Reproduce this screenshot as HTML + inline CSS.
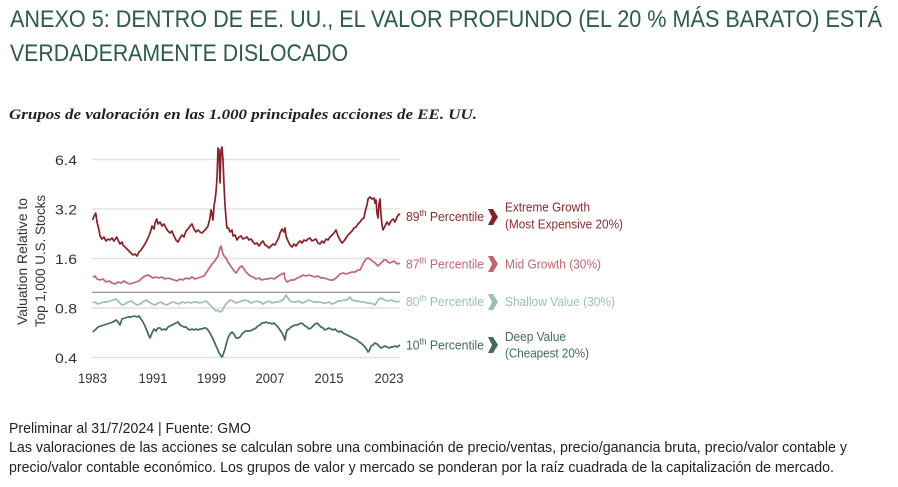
<!DOCTYPE html>
<html><head><meta charset="utf-8"><style>
html,body{margin:0;padding:0;background:#fff;width:898px;height:487px;overflow:hidden}
svg{display:block}
text{font-family:"Liberation Sans",sans-serif}
</style></head><body>
<svg width="898" height="487" viewBox="0 0 898 487" xmlns="http://www.w3.org/2000/svg">
<rect width="898" height="487" fill="#fff"/>
<!-- Title -->
<text x="10" y="27" font-size="24" fill="#2b5b4c" textLength="872" lengthAdjust="spacingAndGlyphs">ANEXO 5: DENTRO DE EE. UU., EL VALOR PROFUNDO (EL 20 % MÁS BARATO) ESTÁ</text>
<text x="10" y="61" font-size="24" fill="#2b5b4c" textLength="338" lengthAdjust="spacingAndGlyphs">VERDADERAMENTE DISLOCADO</text>
<!-- Subtitle -->
<text x="9" y="119" font-size="15" font-style="italic" font-weight="bold" fill="#222" style="font-family:'Liberation Serif',serif" textLength="468" lengthAdjust="spacingAndGlyphs">Grupos de valoración en las 1.000 principales acciones de EE. UU.</text>

<!-- gridlines -->
<g stroke="#e2e2e2" stroke-width="1.5">
<line x1="92" y1="159.5" x2="400" y2="159.5"/>
<line x1="92" y1="209" x2="400" y2="209"/>
<line x1="92" y1="258.5" x2="400" y2="258.5"/>
<line x1="92" y1="308" x2="400" y2="308"/>
<line x1="92" y1="357.5" x2="400" y2="357.5"/>
</g>
<line x1="92" y1="292.3" x2="400" y2="292.3" stroke="#8a8a8a" stroke-width="1.2"/>

<!-- y ticks -->
<g font-size="14" fill="#333" text-anchor="end">
<text x="77" y="165" textLength="22" lengthAdjust="spacingAndGlyphs">6.4</text>
<text x="77" y="214.5" textLength="22" lengthAdjust="spacingAndGlyphs">3.2</text>
<text x="77" y="264" textLength="22" lengthAdjust="spacingAndGlyphs">1.6</text>
<text x="77" y="313.5" textLength="22" lengthAdjust="spacingAndGlyphs">0.8</text>
<text x="77" y="363" textLength="22" lengthAdjust="spacingAndGlyphs">0.4</text>
</g>
<!-- x ticks -->
<g font-size="14" fill="#333" text-anchor="middle">
<text x="92.5" y="383" textLength="29" lengthAdjust="spacingAndGlyphs">1983</text>
<text x="153" y="383" textLength="29" lengthAdjust="spacingAndGlyphs">1991</text>
<text x="211.5" y="383" textLength="29" lengthAdjust="spacingAndGlyphs">1999</text>
<text x="270" y="383" textLength="29" lengthAdjust="spacingAndGlyphs">2007</text>
<text x="329" y="383" textLength="29" lengthAdjust="spacingAndGlyphs">2015</text>
<text x="389" y="383" textLength="29" lengthAdjust="spacingAndGlyphs">2023</text>
</g>
<!-- y axis title -->
<g font-size="14" fill="#333" text-anchor="middle">
<text transform="translate(27,261.5) rotate(-90)" textLength="127" lengthAdjust="spacingAndGlyphs">Valuation Relative to</text>
<text transform="translate(45,261) rotate(-90)" textLength="132" lengthAdjust="spacingAndGlyphs">Top 1,000 U.S. Stocks</text>
</g>

<!-- series -->
<g fill="none" stroke-width="1.7" stroke-linejoin="round">
<polyline stroke="#8b2126" points="92.7,220 94,216 95.7,213 97,222 99,230 100,236 102,239 104,237 106,241 108,239 110,240 112,238 114,241 116.7,237 118,240 120,244 122,242 123,245 125,247 127,249 129,251 131,253 133,255 135,254 137,256 139,252 141,250 143,247 145,244 147,240 149,236 151,230 152,226 154,229 155,223 156.7,219 158,224 160,222 162,226 164,224 166,228 168,231 170,233 172,231 174,236 176,240 178,242 180,238 182,235 184,237 186,231 188,229 190,226 192,224 194,229 196,232 198,230 200,232 202,233 204,231 206,229 208,226 210,218 211,210 212,214 213,220 214,206 215,200 216,192 217,178 218,148 219,150 220,183 221,150 222,147 223,160 224,185 225,205 226,218 227,228 228.5,228 230,232 232,230 233,236 235,235 237,240 239,237 241,236 243,239 245,238 247,237 249,240 251,239 253,242 255,244 257,243 259,246 261,243 263,241 265,245 267,246 269,248 271,246 273,244 275,245 277,241 279,237 280,233 282,229 284,232 285,228 286,236 288,241 290,245 292,247 294,244 296,246 298,243 300,241 302,243 304,240 306,241 308,239 310,238 312,241 314,240 316,239 318,243 320,244 322,241 324,243 326,239 328,240 330,237 332,235 334,233 336,230 338,236 340,240 342,243 344,241 346,238 348,235 350,233 352,231 354,228 356,227 358,224 360,222 362,219 364,218 365,212 367,205 368,199 370,197 372,199 374,198 375,203 376,200 377,213 378,218 379,204 380,199 381,215 382,225 383,230 385,226 387,222 389,225 391,221 393,219 395,222 397,217 399,214 400,215"/>
<polyline stroke="#c4666f" points="92.7,277 95,276 97,279 100,280 103,279 106,282 109,281 112,283 115,284 118,282 121,283 124,281 127,283 130,284 133,283 136,282 139,281 142,278 145,276 148,275 150,276 153,278 156,277 159,278 162,277 165,279 168,278 171,279 174,280 177,281 180,279 183,280 186,278 189,279 192,277 195,279 198,278 201,277 204,276 206,273 208,270 210,267 212,264 214,262 216,259 218,256 219,252 220,248 221,246 222,250 223,254 224,256 226,258 228,262 230,265 232,268 234,271 236,273 238,270 240,267 242,266 244,269 246,272 248,274 250,276 253,277 256,279 259,278 262,280 265,279 268,279 271,278 274,279 277,277 280,275 282,274 284,273 285,279 287,282 289,281 291,280 294,280 297,278 300,277 303,275 306,276 309,275 312,276 315,277 318,276 321,278 324,278 327,279 330,280 333,280 336,278 338,276 340,274 343,273 346,274 349,273 352,272 355,272 358,270 360,270 362,266 364,262 366,259 368,258 370,259 372,261 374,262 376,264 378,266 380,264 382,262 384,260 386,260 388,262 390,263 392,262 394,261 396,263 398,264 400,263"/>
<polyline stroke="#9cbfb1" points="92.7,303 95,302 98,304 101,303 104,302 107,302 110,301 113,300 116,299 119,302 122,305 125,304 128,302 131,301 134,303 137,305 140,304 143,302 146,300 149,302 152,304 155,305 158,303 161,302 164,304 167,305 170,303 173,302 176,303 179,304 182,302 185,303 188,302 191,303 194,302 197,302 200,303 203,302 206,301 208,303 210,305 212,307 214,309 216,311 218,310 220,312 222,311 224,307 226,304 228,302 230,300 233,301 236,303 239,302 242,301 245,300 248,301 251,303 254,302 257,301 260,302 263,304 266,302 269,301 272,303 275,302 278,302 281,301 284,299 286,295 288,298 290,301 293,302 296,302 299,301 302,303 305,302 308,300 311,301 314,302 317,302 320,302 323,303 326,303 329,302 332,304 335,303 338,301 341,301 344,300 347,300 349,298 350,297 352,300 355,301 358,301 361,302 364,302 367,303 370,303 373,304 375,305 377,302 379,299 381,298 383,299 385,300 388,301 391,300 394,301 397,302 400,301"/>
<polyline stroke="#3f6b59" points="92.7,332 95,330 98,327 101,326 104,325 107,324 110,323 113,322 116,320 118,322 120,325 122,319 125,318 128,317 131,317 134,316 137,317 139,316 141,319 143,322 145,326 147,331 149,336 150,338 152,333 154,329 156,331 158,328 160,328 162,330 164,329 166,330 168,327 170,326 172,325 174,324 176,323 178,322 180,325 182,326 184,327 186,327 188,329 190,330 192,329 194,330 196,329 198,330 200,329 202,329 204,328 206,328 208,330 210,333 212,337 214,341 216,346 218,350 219,353 220,354 221,356 222,357 223,355 224,352 225,349 226,345 228,338 230,334 232,332 234,334 236,338 238,338 240,337 242,334 244,332 246,331 248,331 250,331 252,330 254,329 256,328 258,326 260,325 262,323 264,323 266,322 268,323 270,323 272,324 274,323 276,325 278,327 280,330 282,333 284,337 285,340 286,334 287,330 289,329 291,327 293,326 295,325 297,325 299,324 301,323 303,324 305,326 307,327 309,329 311,328 313,326 315,324 317,323 319,325 321,327 323,328 325,330 327,329 329,328 331,329 333,330 335,329 337,331 339,332 341,331 343,333 345,334 347,335 349,336 351,337 353,338 355,339 357,340 359,342 361,343 363,345 365,347 367,350 368,352 369,351 370,349 371,346 373,345 375,343 377,344 379,346 381,348 383,347 385,346 387,347 389,348 391,347 393,347 395,346 397,347 400,345"/>
</g>

<!-- right labels -->
<g font-size="13">
<text x="406" y="221" fill="#8b2a2e" textLength="78" lengthAdjust="spacingAndGlyphs">89<tspan font-size="9" dy="-5">th</tspan><tspan dy="5"> Percentile</tspan></text>
<text x="406" y="268.5" fill="#c4666f" textLength="78" lengthAdjust="spacingAndGlyphs">87<tspan font-size="9" dy="-5">th</tspan><tspan dy="5"> Percentile</tspan></text>
<text x="406" y="306" fill="#9cbfb1" textLength="78" lengthAdjust="spacingAndGlyphs">80<tspan font-size="9" dy="-5">th</tspan><tspan dy="5"> Percentile</tspan></text>
<text x="406" y="349.5" fill="#3f6b59" textLength="78" lengthAdjust="spacingAndGlyphs">10<tspan font-size="9" dy="-5">th</tspan><tspan dy="5"> Percentile</tspan></text>

<text x="505" y="211.5" fill="#8b2a2e" textLength="85" lengthAdjust="spacingAndGlyphs">Extreme Growth</text>
<text x="505" y="228.5" fill="#8b2a2e" textLength="118" lengthAdjust="spacingAndGlyphs">(Most Expensive 20%)</text>
<text x="505" y="268.5" fill="#c4666f" textLength="96" lengthAdjust="spacingAndGlyphs">Mid Growth (30%)</text>
<text x="505" y="306" fill="#9cbfb1" textLength="110" lengthAdjust="spacingAndGlyphs">Shallow Value (30%)</text>
<text x="505" y="341" fill="#3f6b59" textLength="61" lengthAdjust="spacingAndGlyphs">Deep Value</text>
<text x="505" y="357.5" fill="#3f6b59" textLength="84" lengthAdjust="spacingAndGlyphs">(Cheapest 20%)</text>
</g>
<!-- chevrons -->
<polygon fill="#8b2126" points="488,209 493,209 498,217 493,225 488,225 492,217"/>
<polygon fill="#c4666f" points="488,256 493,256 498,264 493,272 488,272 492,264"/>
<polygon fill="#9cbfb1" points="488,294 493,294 498,302 493,310 488,310 492,302"/>
<polygon fill="#3f6b59" points="488,337 493,337 498,345 493,353 488,353 492,345"/>

<!-- footer -->
<g font-size="15" fill="#222">
<text x="9" y="433" textLength="242" lengthAdjust="spacingAndGlyphs">Preliminar al 31/7/2024 | Fuente: GMO</text>
<text x="9" y="452" textLength="838" lengthAdjust="spacingAndGlyphs">Las valoraciones de las acciones se calculan sobre una combinación de precio/ventas, precio/ganancia bruta, precio/valor contable y</text>
<text x="9" y="472" textLength="825" lengthAdjust="spacingAndGlyphs">precio/valor contable económico. Los grupos de valor y mercado se ponderan por la raíz cuadrada de la capitalización de mercado.</text>
</g>
</svg>
</body></html>
